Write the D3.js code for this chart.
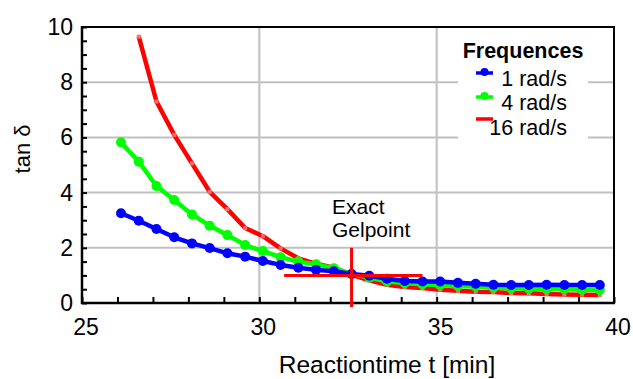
<!DOCTYPE html>
<html>
<head>
<meta charset="utf-8">
<script src="https://cdn.jsdelivr.net/npm/d3@7"></script>
<style>
  body { margin: 0; background: #fff; }
  svg text { font-family: "Liberation Sans", Arial, sans-serif; fill: #000; }
</style>
</head>
<body>
<svg id="chart" width="633" height="379"></svg>
<script>
// times (min) where 1 and 4 rad/s were measured
const timesLow = [26.1, 26.6, 27.1, 27.6, 28.1, 28.6, 29.1, 29.6, 30.1, 30.6, 31.1, 31.6, 32.1, 32.6,
    33.1, 33.6, 34.1, 34.6, 35.1, 35.6, 36.1, 36.6, 37.1, 37.6, 38.1, 38.6, 39.1, 39.6]
const timesHigh = [26.6, 27.1, 27.6, 28.1, 28.6, 29.1, 29.6, 30.1, 30.6, 31.1, 31.6, 32.1, 32.6,
    33.1, 33.6, 34.1, 34.6, 35.1, 35.6, 36.1, 36.6, 37.1, 37.6, 38.1, 38.6, 39.1, 39.6]

const tan1 = [3.25, 2.98, 2.68, 2.38, 2.16, 1.99, 1.80, 1.68, 1.52, 1.38, 1.28, 1.20, 1.15, 1.05,
    0.99, 0.88, 0.80, 0.78, 0.78, 0.73, 0.70, 0.66, 0.65, 0.65, 0.66, 0.65, 0.65, 0.65]
const tan4 = [5.82, 5.12, 4.24, 3.73, 3.21, 2.80, 2.46, 2.10, 1.88, 1.66, 1.50, 1.40, 1.26, 1.05,
    0.92, 0.78, 0.72, 0.68, 0.64, 0.62, 0.60, 0.55, 0.53, 0.52, 0.50, 0.50, 0.48, 0.47]
const tan16 = [9.65, 7.30, 6.09, 5.06, 4.03, 3.40, 2.72, 2.42, 1.98, 1.62, 1.42, 1.28, 1.02,
    0.82, 0.66, 0.58, 0.54, 0.48, 0.44, 0.41, 0.40, 0.36, 0.35, 0.33, 0.31, 0.30, 0.29]

const seriesNames = ['1 rad/s', '4 rad/s', '16 rad/s']
const xTickLabels = [25, 30, 35, 40]
const yTickLabels = [0, 2, 4, 6, 8, 10]

// gel point cross
const gelTime = 32.6, gelTan = 1.0
const gelTimeSpan = [30.7, 34.6]
const gelTanSpan = [-0.15, 2.0]

const svg = d3.select('#chart')
const x = d3.scaleLinear().domain([25, 40]).range([82, 614])
const y = d3.scaleLinear().domain([0, 10]).range([303, 27])

const series = [
    { name: seriesNames[0], t: timesLow, v: tan1, color: '#0000ff', marker: 'circle' },
    { name: seriesNames[1], t: timesLow, v: tan4, color: '#00ff00', marker: 'circle' },
    { name: seriesNames[2], t: timesHigh, v: tan16, color: '#ff0000', marker: 'square' }
]

// grid
svg.append('g').selectAll('line.gx')
    .data([30, 35]).enter().append('line')
    .attr('x1', d => x(d)).attr('x2', d => x(d))
    .attr('y1', y(0)).attr('y2', y(10))
    .attr('stroke', '#c0c0c0').attr('stroke-width', 2)
svg.append('g').selectAll('line.gy')
    .data([2, 4, 6, 8]).enter().append('line')
    .attr('x1', x(25)).attr('x2', x(40))
    .attr('y1', d => y(d)).attr('y2', d => y(d))
    .attr('stroke', '#c0c0c0').attr('stroke-width', 2)

// frame top/right
svg.append('path')
    .attr('d', `M${x(25)},${y(10)}H${x(40)}V${y(0)}`)
    .attr('fill', 'none').attr('stroke', '#000').attr('stroke-width', 2)

// axes with inward ticks
const xAxis = d3.axisBottom(x).tickValues(d3.range(25, 41, 1)).tickSize(-6).tickFormat('')
const yAxis = d3.axisLeft(y).tickValues(d3.range(0, 10.01, 0.5)).tickSize(-5).tickFormat('')

const gx = svg.append('g').attr('transform', `translate(0,${y(0)})`).call(xAxis)
const gy = svg.append('g').attr('transform', `translate(${x(25)},0)`).call(yAxis)
gx.select('.domain').attr('stroke-width', 2.5).attr('d', `M${x(25) - 1},0H${x(40) + 1}`)
gy.select('.domain').attr('stroke-width', 2.5).attr('d', `M0,${y(0) + 1}V${y(10) - 1}`)
gx.selectAll('.tick line').attr('stroke-width', 2)
gy.selectAll('.tick line').attr('stroke-width', 2)

// tick labels
svg.append('g').selectAll('text')
    .data(xTickLabels).enter().append('text')
    .attr('x', d => x(d) + 4).attr('y', 335)
    .attr('text-anchor', 'middle').attr('font-size', 23)
    .text(d => d)
svg.append('g').selectAll('text')
    .data(yTickLabels).enter().append('text')
    .attr('x', 73).attr('y', d => y(d) + 8)
    .attr('text-anchor', 'end').attr('font-size', 23)
    .text(d => d)

// axis titles
svg.append('text')
    .attr('x', 387).attr('y', 373)
    .attr('text-anchor', 'middle').attr('font-size', 24.5)
    .text('Reactiontime t [min]')
svg.append('text')
    .attr('transform', 'translate(30,149) rotate(-90)')
    .attr('text-anchor', 'middle').attr('font-size', 22)
    .text('tan δ')

// curves: red first, blue on top
const line = d3.line().x(d => x(d[0])).y(d => y(d[1]))
series.slice().reverse().forEach(s => {
    const pts = s.t.map((t, i) => [t, s.v[i]])
    const g = svg.append('g')
    g.append('path').datum(pts)
        .attr('d', line)
        .attr('fill', 'none').attr('stroke', s.color)
        .attr('stroke-width', 4.5).attr('stroke-linejoin', 'round')
    if (s.marker === 'circle') {
        g.selectAll('circle').data(pts).enter().append('circle')
            .attr('cx', d => x(d[0])).attr('cy', d => y(d[1]))
            .attr('r', 5).attr('fill', s.color)
    } else {
        g.selectAll('rect').data(pts).enter().append('rect')
            .attr('x', d => x(d[0]) - 2).attr('y', d => y(d[1]) - 2)
            .attr('width', 4).attr('height', 4).attr('fill', '#f07070')
    }
})

// gel point cross
svg.append('line')
    .attr('x1', x(gelTimeSpan[0])).attr('x2', x(gelTimeSpan[1]))
    .attr('y1', y(gelTan)).attr('y2', y(gelTan))
    .attr('stroke', '#ff0000').attr('stroke-width', 3)
svg.append('line')
    .attr('x1', x(gelTime)).attr('x2', x(gelTime))
    .attr('y1', y(gelTanSpan[1])).attr('y2', y(gelTanSpan[0]))
    .attr('stroke', '#ff0000').attr('stroke-width', 3)
svg.append('text').attr('x', 332).attr('y', 214).attr('font-size', 21).text('Exact')
svg.append('text').attr('x', 332).attr('y', 237).attr('font-size', 21).text('Gelpoint')

// legend
const legend = svg.append('g')
legend.append('rect')
    .attr('x', 458).attr('y', 38).attr('width', 130).attr('height', 102).attr('fill', '#fff')
legend.append('text')
    .attr('x', 523).attr('y', 58).attr('text-anchor', 'middle')
    .attr('font-size', 21.5).attr('font-weight', 'bold')
    .text('Frequences')
const legY = [73, 97, 119]
const legTextY = [86, 110, 135]
series.forEach((s, i) => {
    legend.append('line')
        .attr('x1', 476).attr('x2', 493).attr('y1', legY[i]).attr('y2', legY[i])
        .attr('stroke', s.color).attr('stroke-width', 3.5)
    if (s.marker === 'circle') {
        legend.append('circle').attr('cx', 484.5).attr('cy', legY[i] - 1).attr('r', 4).attr('fill', s.color)
    }
    legend.append('text')
        .attr('x', 567).attr('y', legTextY[i]).attr('text-anchor', 'end')
        .attr('font-size', 21.5)
        .text(s.name)
})
</script>
</body>
</html>
